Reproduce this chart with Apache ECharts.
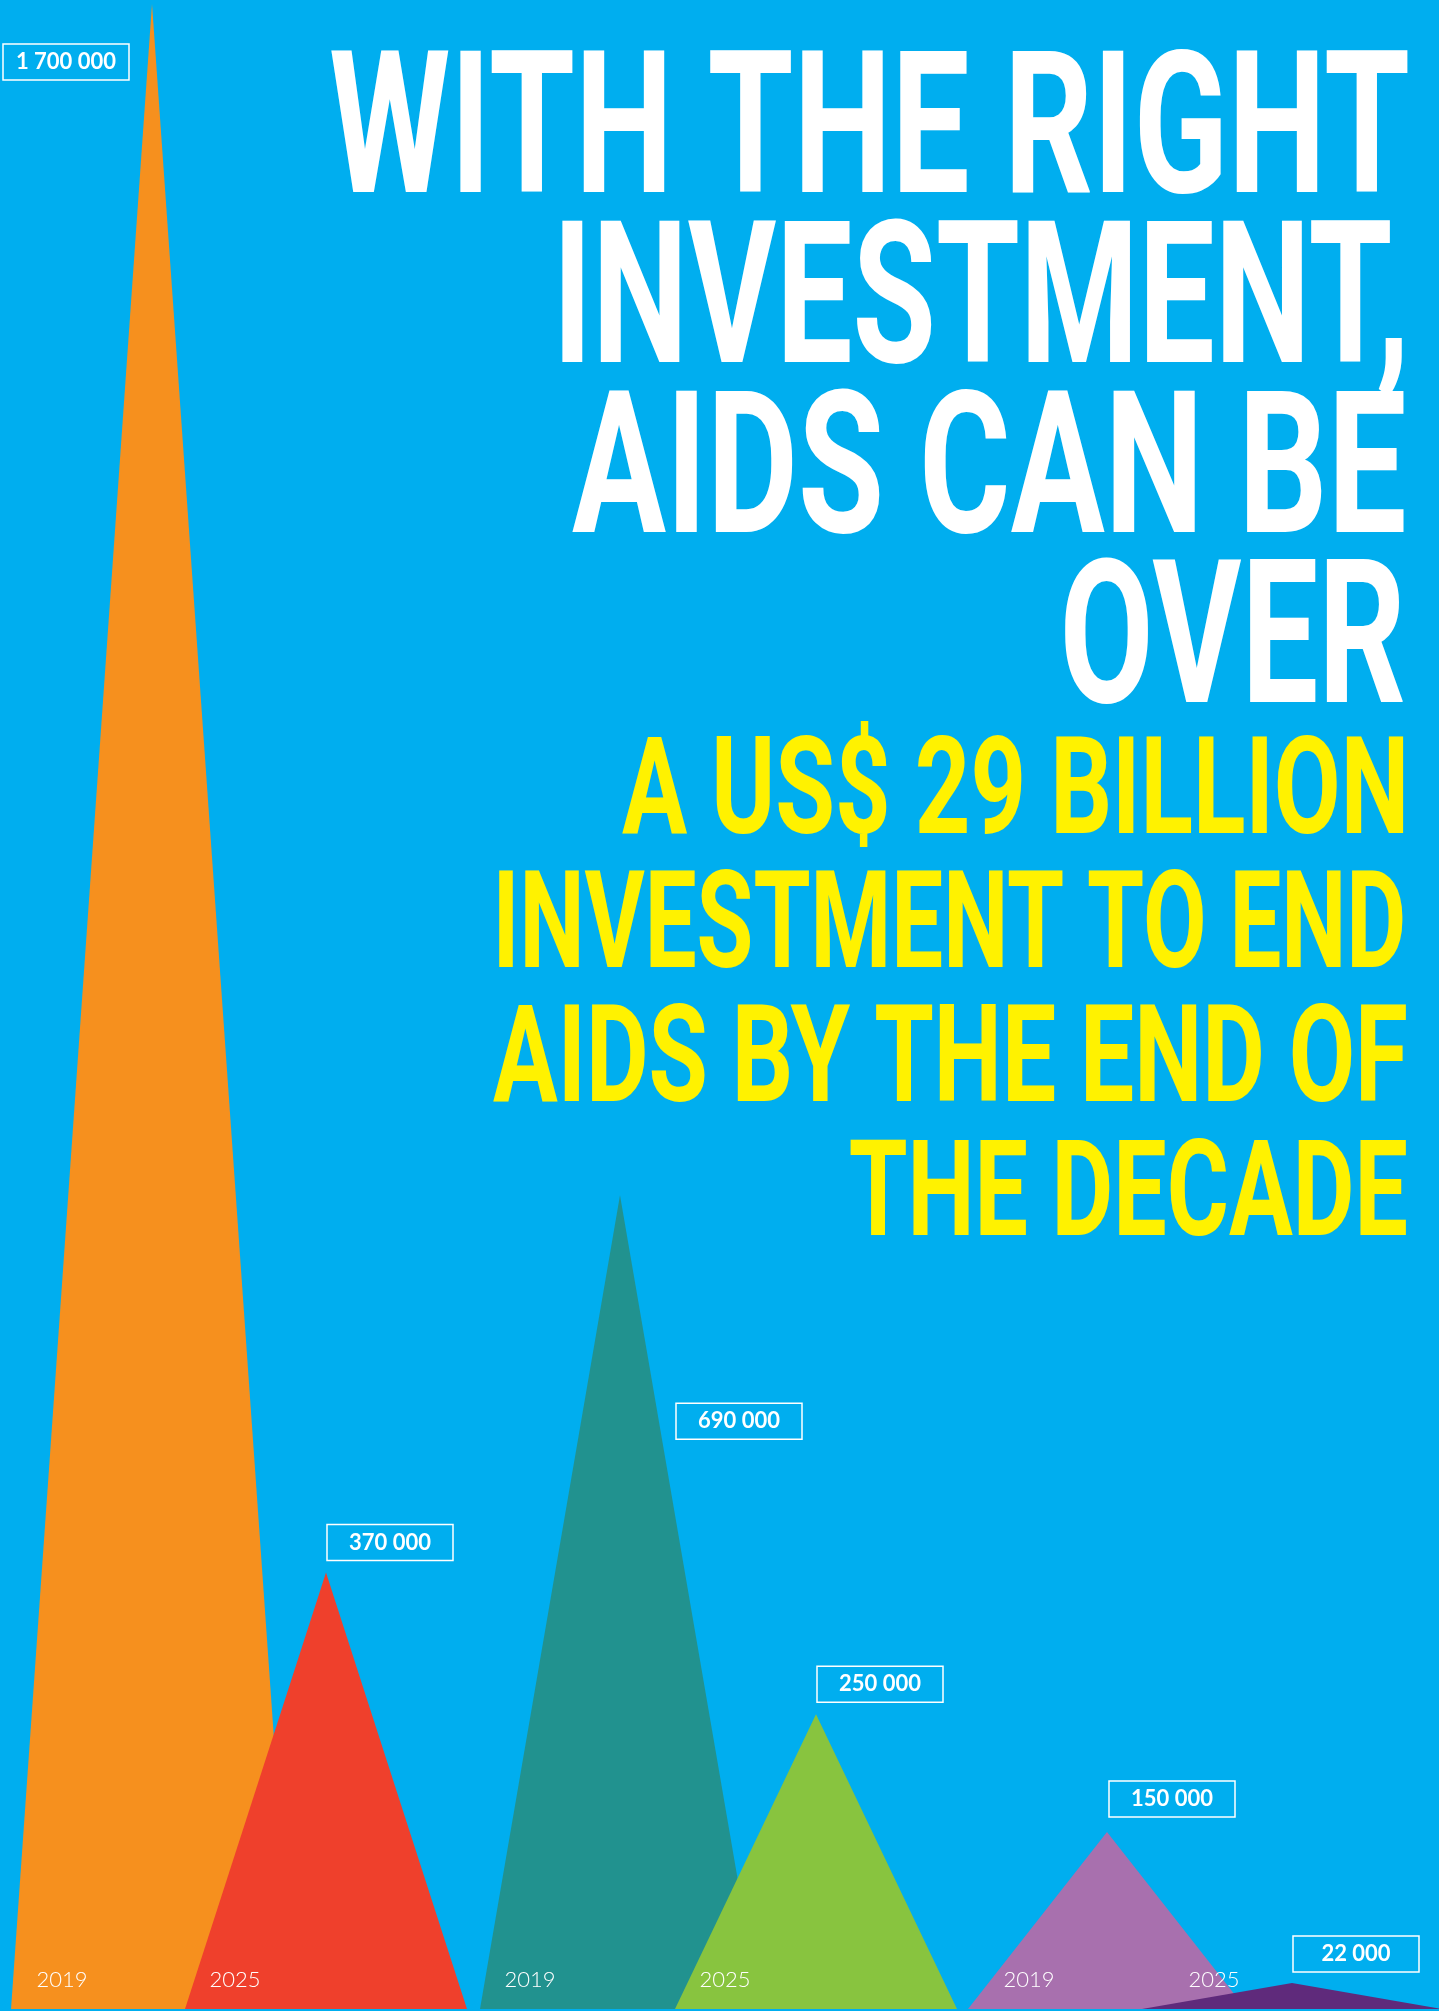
<!DOCTYPE html>
<html lang="en">

<head>
  <meta charset="UTF-8">
  <script src="https://cdn.jsdelivr.net/npm/echarts@6/dist/echarts.min.js"></script>
  <style>
    body {
      margin: 0;
      background: #00aeef;
      overflow: hidden;
    }

    #main {
      width: 1439px;
      height: 2011px;
    }
  </style>
  <title>With the right investment, AIDS can be over</title>
</head>

<body>
  <div id="main"></div>

  <script>
    // data: three indicators, 2019 value and 2025 target
    var years = ['2019', '2025'];
    var newInfections = [1700000, 370000];
    var aidsDeaths = [690000, 250000];
    var childInfections = [150000, 22000];
    // where each peak sits on the horizontal axis (axis runs 0..1439)
    var peakPos = [152, 326, 620, 816, 1107, 1292];

    var titleLines = ['WITH THE RIGHT', 'INVESTMENT,', 'AIDS CAN BE', 'OVER'];
    var subLines = ['A US$ 29 BILLION', 'INVESTMENT TO END', 'AIDS BY THE END OF', 'THE DECADE'];

    // look
    var colors = ['#f6901e', '#ef402c', '#21928f', '#88c43f', '#a870ae', '#5f2a7b'];
    var halfBase = [141, 141, 140, 141, 139, 150];
    var boxOffset = [[-149, 40], [1, -48], [56, 208], [1, -48], [2, -51], [1, -47]];
    var yearShift = [-90, -91, -90, -91, -78, -78];

    var values = newInfections.concat(aidsDeaths, childInfections);
    var seriesData = values.map(function (v, i) {
      return [peakPos[i], v, i];
    });

    function fmt(v) {
      return String(v).replace(/\B(?=(\d{3})+(?!\d))/g, ' ');
    }

    var measureCtx = document.createElement('canvas').getContext('2d');
    // squeeze a line of text into the box it fills in the poster
    function fitLine(text, font, color, left, right, capTop, capBottom) {
      measureCtx.font = font;
      measureCtx.textAlign = 'left';
      measureCtx.textBaseline = 'middle';
      var m = measureCtx.measureText(text);
      var h = measureCtx.measureText('H');
      var sx = (right - left) / (m.actualBoundingBoxLeft + m.actualBoundingBoxRight);
      var sy = (capBottom - capTop) / (h.actualBoundingBoxAscent + h.actualBoundingBoxDescent);
      var mid = (h.actualBoundingBoxDescent - h.actualBoundingBoxAscent) / 2;
      return {
        type: 'text',
        z: 10,
        x: left + m.actualBoundingBoxLeft * sx,
        y: (capTop + capBottom) / 2 - mid * sy,
        scaleX: sx,
        scaleY: sy,
        style: {
          text: text,
          font: font,
          fill: color,
          align: 'left',
          verticalAlign: 'middle'
        }
      };
    }

    var titleFont = 'bold 200px Roboto';
    var subFont = 'bold 140px Roboto';
    var titleBoxes = [[331, 1408, 50, 192], [562, 1402, 220, 362], [572, 1404, 390, 532], [1065, 1403, 558, 702]];
    var subBoxes = [[622, 1403, 736, 833], [499, 1403, 870, 967], [493, 1406, 1004, 1101], [850, 1406, 1139, 1235]];

    var graphics = [];
    titleLines.forEach(function (t, i) {
      var b = titleBoxes[i];
      graphics.push(fitLine(t, titleFont, '#ffffff', b[0], b[1], b[2], b[3]));
    });
    subLines.forEach(function (t, i) {
      var b = subBoxes[i];
      graphics.push(fitLine(t, subFont, '#fff200', b[0], b[1], b[2], b[3]));
    });

    var myChart = echarts.init(document.getElementById('main'));
    var option = {
      backgroundColor: '#00aeef',
      animation: false,
      grid: { left: 0, right: 0, top: 4, bottom: 2 },
      xAxis: { type: 'value', min: 0, max: 1439, show: false },
      yAxis: { type: 'value', min: 0, max: 1700000, show: false },
      graphic: graphics,
      series: [
        {
          type: 'custom',
          clip: false,
          data: seriesData,
          renderItem: function (params, api) {
            var x = api.value(0);
            var v = api.value(1);
            var i = api.value(2);
            var peak = api.coord([x, v]);
            var left = api.coord([x - halfBase[i], 0]);
            var right = api.coord([x + halfBase[i], 0]);
            var bx = peak[0] + boxOffset[i][0];
            var by = peak[1] + boxOffset[i][1];
            return {
              type: 'group',
              children: [
                {
                  type: 'polygon',
                  shape: { points: [left, peak, right] },
                  style: { fill: colors[i] }
                },
                {
                  type: 'text',
                  x: peak[0] + yearShift[i],
                  y: left[1] - 29,
                  style: {
                    text: years[i % 2],
                    fill: '#ffffff',
                    font: '300 22px Lato',
                    align: 'center',
                    verticalAlign: 'middle'
                  }
                },
                {
                  type: 'rect',
                  shape: { x: bx, y: by, width: 126, height: 36 },
                  style: { fill: 'none', stroke: '#ffffff', lineWidth: 1.5 }
                },
                {
                  type: 'text',
                  x: bx + 63,
                  y: by + 18,
                  style: {
                    text: fmt(v),
                    fill: '#ffffff',
                    font: 'bold 22px Lato',
                    align: 'center',
                    verticalAlign: 'middle'
                  }
                }
              ]
            };
          }
        }
      ]
    };

    option && myChart.setOption(option);
  </script>
</body>

</html>
